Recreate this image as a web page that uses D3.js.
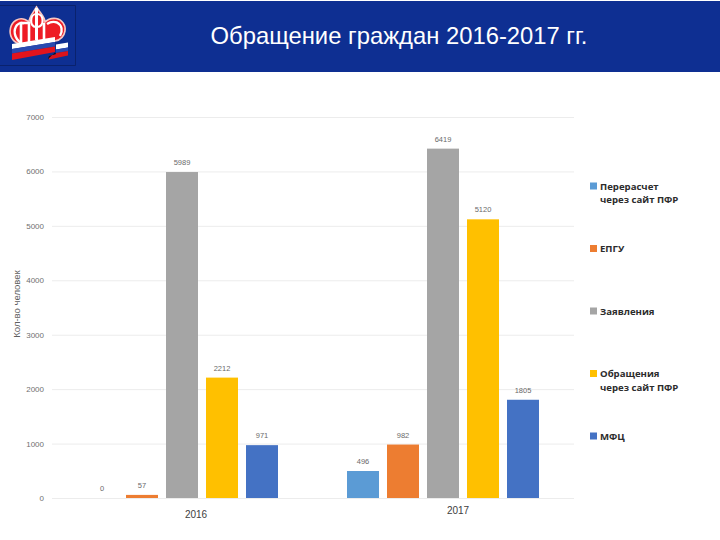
<!DOCTYPE html>
<html><head><meta charset="utf-8">
<script src="https://cdnjs.cloudflare.com/ajax/libs/d3/7.8.5/d3.min.js"></script>
<style>html,body{margin:0;padding:0;background:#fff}svg{display:block}</style>
</head><body><svg id="c" width="720" height="540"></svg>
<script>
const years = ["2016","2017"];
const seriesNames = ["Перерасчет через сайт ПФР","ЕПГУ","Заявления","Обращения через сайт ПФР","МФЦ"];
const legendLines = [["Перерасчет","через сайт ПФР"],["ЕПГУ"],["Заявления"],["Обращения","через сайт ПФР"],["МФЦ"]];
const seriesColors = ["#5b9bd5","#ed7d31","#a5a5a5","#ffc000","#4472c4"];
const values2016 = [0,57,5989,2212,971];
const values2017 = [496,982,6419,5120,1805];
const yTicks = [0,1000,2000,3000,4000,5000,6000,7000];
const valuesByYear = [values2016,values2017];

const svg = d3.select("#c");
svg.append("rect").attr("width",720).attr("height",540).attr("fill","#fff");
// header
svg.append("rect").attr("x",0).attr("y",1).attr("width",720).attr("height",71).attr("fill","#0e2f92");
svg.append("path").attr("d","M0 5.5H75.5V65.5H0").attr("fill","none").attr("stroke","#0a1f63").attr("stroke-width",0.8);
svg.append("text").attr("x",399).attr("y",44).attr("text-anchor","middle")
  .attr("font-family","Liberation Sans").attr("font-size",23.8).attr("fill","#fff")
  .text("Обращение граждан 2016-2017 гг.");
// logo
const logo = svg.append("g");
const crown = "M20 44C12 42 9 35 10.5 28C12 21 19 17 25 19.5C27 20.5 28 21 29 22C29 17 33 13 36.5 7C40 13 45 17 45 22C47 20 51 18 56 18.5C62 19.5 66 25 65 31C64 37 60 40 55 41Z";
logo.append("path").attr("d",crown).attr("fill","#ee1c25").attr("stroke","#f7c9c4").attr("stroke-width",1.6);
logo.append("path").attr("d","M21 43C14 38 13 30 17 25C19 23 22 22.5 24 23.5M60 36C63 31 62 25 57 22.5C54 21.5 50 22 47 24")
  .attr("fill","none").attr("stroke","#fff").attr("stroke-width",2.4);
logo.append("path").attr("d","M21 43V23H29V42").attr("fill","none").attr("stroke","#fff").attr("stroke-width",2.6);
logo.append("path").attr("d","M36.5 8V40").attr("stroke","#fff").attr("stroke-width",3);
logo.append("path").attr("d","M36 14C30 14 29 27 36 27M37 14C44 14 45 27 37 27").attr("fill","none").attr("stroke","#fff").attr("stroke-width",2.2);
logo.append("path").attr("d","M44 39V23").attr("stroke","#fff").attr("stroke-width",2.6);
logo.append("path").attr("d","M12 44L55 37V42L12 49Z").attr("fill","#fff");
logo.append("path").attr("d","M12 49L55 42V46.5L12 53.5Z").attr("fill","#2a4ab0");
logo.append("path").attr("d","M12 53.5L55 46.5V52L12 60Z").attr("fill","#e3141c");
logo.append("path").attr("d","M56 44.5L68 42.5V47.5L56 49.5Z").attr("fill","#fff");
logo.append("path").attr("d","M56 49.5L68 47.5V51L56 53Z").attr("fill","#2a4ab0");
logo.append("path").attr("d","M49 59.5L68 55.5V51L56 53V54L49 56Z").attr("fill","#d9141c");
logo.append("path").attr("d","M48 59L55 52.5L56 54L49 56Z").attr("fill","#111");

// scales
const y = d3.scaleLinear().domain([0,7000]).range([498,117]);
const x0 = d3.scaleBand().domain(years).range([52,574]);
const x1 = d3.scaleBand().domain(seriesNames).range([34,226]).paddingInner(0.2).paddingOuter(0);

// grid + y axis
const axis = d3.axisLeft(y).tickValues(yTicks).tickSize(0).tickPadding(8).tickFormat(d3.format("d"));
const ga = svg.append("g").attr("transform","translate(52,0)").call(axis);
ga.select(".domain").remove();
ga.selectAll("text").attr("font-family","Liberation Sans").attr("font-size",8).attr("fill","#707070");
svg.append("g").selectAll("line").data(yTicks).join("line")
  .attr("x1",52).attr("x2",574).attr("y1",d=>y(d)+.5).attr("y2",d=>y(d)+.5)
  .attr("stroke","#ececec").attr("stroke-width",1);

// bars
const groups = svg.append("g").selectAll("g").data(years).join("g")
  .attr("transform",d=>`translate(${x0(d)},0)`);
groups.each(function(yr,i){
  const g = d3.select(this);
  const rows = seriesNames.map((s,j)=>({s,c:seriesColors[j],v:valuesByYear[i][j]}));
  g.selectAll("rect").data(rows).join("rect")
    .attr("x",d=>x1(d.s)).attr("width",x1.bandwidth())
    .attr("y",d=>y(d.v)).attr("height",d=>y(0)-y(d.v)).attr("fill",d=>d.c);
  g.selectAll("text").data(rows).join("text")
    .attr("x",d=>x1(d.s)+x1.bandwidth()/2).attr("y",d=>y(d.v)-7)
    .attr("text-anchor","middle").attr("font-family","Liberation Sans")
    .attr("font-size",7.5).attr("fill","#6a6a6a").text(d=>d.v);
});
// category labels (skewed from group centre, as in the picture)
svg.append("g").selectAll("text").data(years).join("text")
  .attr("x",d=>x0(d)+x0.bandwidth()/2+ (d==="2016"?13.5:14.5))
  .attr("y",d=>d==="2016"?518:514)
  .attr("text-anchor","middle").attr("font-family","Liberation Sans")
  .attr("font-size",10).attr("fill","#404040").text(d=>d);
// y title
svg.append("text").attr("transform","translate(20,304) rotate(-90)").attr("text-anchor","middle")
  .attr("font-family","Liberation Sans").attr("font-size",9.5).attr("fill","#606060").text("Кол-во человек");
// legend
const legY = d3.scalePoint().domain(seriesNames).range([186,436]);
const leg = svg.append("g").selectAll("g").data(seriesNames).join("g")
  .attr("transform",d=>`translate(590,${legY(d)})`);
leg.append("rect").attr("x",0).attr("y",-3.5).attr("width",7).attr("height",7)
  .attr("fill",(d,i)=>seriesColors[i]);
leg.each(function(d,i){
  d3.select(this).selectAll("text").data(legendLines[i]).join("text")
    .attr("x",10).attr("y",(t,k)=>3.5+k*13.5)
    .attr("font-family","Open Sans").attr("font-weight",700)
    .attr("font-size",9.6).attr("fill","#2c2c2c").text(t=>t);
});
</script></body></html>
